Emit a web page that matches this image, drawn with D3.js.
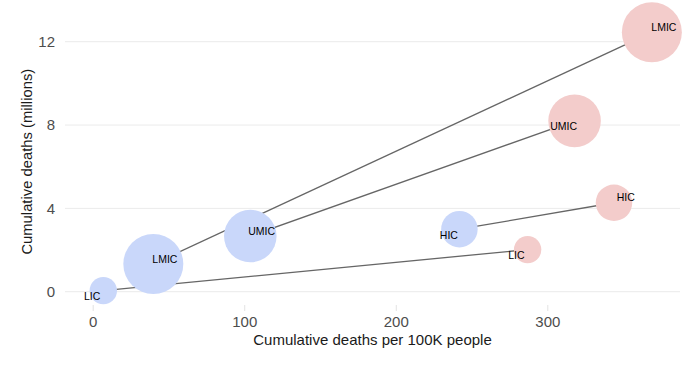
<!DOCTYPE html>
<html>
<head>
<meta charset="utf-8">
<script src="https://cdn.jsdelivr.net/npm/d3@7"></script>
<style>
  html, body { margin: 0; padding: 0; background: #fff; }
  svg { display: block; font-family: "Liberation Sans", Arial, Helvetica, sans-serif; }
</style>
</head>
<body>
<svg id="chart" width="700" height="367"></svg>
<script>
// ---- data ----
const groups = ["LIC", "LMIC", "UMIC", "HIC"];
const populationBillions = [0.70, 3.35, 2.57, 1.24];
const reportedPer100k = [7, 40, 104, 242];
const reportedDeathsM = [0.05, 1.33, 2.67, 3.0];
const excessPer100k = [287, 369, 318, 344];
const excessDeathsM = [2.02, 12.45, 8.2, 4.27];
const xTicks = [0, 100, 200, 300];
const yTicks = [0, 4, 8, 12];

// ---- layout ----
const panel = { left: 65, right: 680 };
const svg = d3.select("#chart");

const x = d3.scaleLinear().domain([0, 300]).range([92.7, 547.3]);
const y = d3.scaleLinear().domain([0, 12]).range([291.7, 41.7]);
const r = d3.scaleSqrt().domain([0, 3.35]).range([0, 30]);

const blue = "#c9d7fa";
const pink = "#f3cccb";
const FONT = "Liberation Sans, Arial, sans-serif";

// gridlines (horizontal only)
svg.append("g").selectAll("line").data(yTicks).join("line")
  .attr("x1", panel.left).attr("x2", panel.right)
  .attr("y1", d => y(d)).attr("y2", d => y(d))
  .attr("stroke", "#ebebeb").attr("stroke-width", 1);

// x axis ticks and labels
const xAxis = d3.axisBottom(x).tickValues(xTicks).tickSize(6).tickPadding(5).tickFormat(d3.format("d"));
const gx = svg.append("g").attr("transform", "translate(0,305)").call(xAxis);
gx.select(".domain").remove();
gx.selectAll(".tick line").attr("stroke", "#e3e3e3").attr("stroke-width", 1);
gx.selectAll(".tick text").attr("fill", "#4d4d4d").attr("font-size", 15)
  .attr("font-family", FONT);

// y axis labels
const yAxis = d3.axisLeft(y).tickValues(yTicks).tickSize(0).tickPadding(10).tickFormat(d3.format("d"));
const gy = svg.append("g").attr("transform", `translate(${panel.left},0)`).call(yAxis);
gy.select(".domain").remove();
gy.selectAll(".tick text").attr("fill", "#4d4d4d").attr("font-size", 15)
  .attr("font-family", FONT);

// axis titles
svg.append("text")
  .attr("x", (panel.left + panel.right) / 2).attr("y", 339)
  .attr("text-anchor", "middle").attr("dominant-baseline", "central")
  .attr("font-size", 15).attr("fill", "#1a1a1a")
  .text("Cumulative deaths per 100K people");
svg.append("text")
  .attr("transform", `translate(27,${(41.7 + 291.7) / 2 - 5}) rotate(-90)`)
  .attr("text-anchor", "middle").attr("dominant-baseline", "central")
  .attr("font-size", 14.8).attr("fill", "#1a1a1a")
  .text("Cumulative deaths (millions)");

// points
const pts = [];
groups.forEach((g, i) => {
  pts.push({ group: g, kind: "reported", px: reportedPer100k[i], dm: reportedDeathsM[i], pop: populationBillions[i] });
});
groups.forEach((g, i) => {
  pts.push({ group: g, kind: "excess", px: excessPer100k[i], dm: excessDeathsM[i], pop: populationBillions[i] });
});

// connecting lines
svg.append("g").selectAll("line").data(groups).join("line")
  .attr("x1", (d, i) => x(reportedPer100k[i])).attr("y1", (d, i) => y(reportedDeathsM[i]))
  .attr("x2", (d, i) => x(excessPer100k[i])).attr("y2", (d, i) => y(excessDeathsM[i]))
  .attr("stroke", "#666666").attr("stroke-width", 1.3);

// bubbles
svg.append("g").selectAll("circle").data(pts).join("circle")
  .attr("cx", d => x(d.px)).attr("cy", d => y(d.dm))
  .attr("r", d => r(d.pop))
  .attr("fill", d => d.kind === "reported" ? blue : pink);

// label placement (style): above-right or below-left
const above = {
  "reported-LMIC": true, "reported-UMIC": true, "excess-HIC": true, "excess-LMIC": true,
  "reported-LIC": false, "reported-HIC": false, "excess-LIC": false, "excess-UMIC": false
};
const dxMap = {
  "reported-LIC": -3, "reported-LMIC": -1, "reported-UMIC": -2, "reported-HIC": -1.5,
  "excess-LIC": -3, "excess-LMIC": -0.5, "excess-UMIC": 2.5, "excess-HIC": 2.7
};
svg.append("g").selectAll("text").data(pts).join("text")
  .attr("x", d => x(d.px) + dxMap[d.kind + "-" + d.group])
  .attr("y", d => y(d.dm) + (above[d.kind + "-" + d.group] ? -5.3 : 5.6))
  .attr("text-anchor", d => above[d.kind + "-" + d.group] ? "start" : "end")
  .attr("dominant-baseline", "central")
  .attr("font-size", 10.5).attr("fill", "#000")
  .text(d => d.group);
</script>
</body>
</html>
